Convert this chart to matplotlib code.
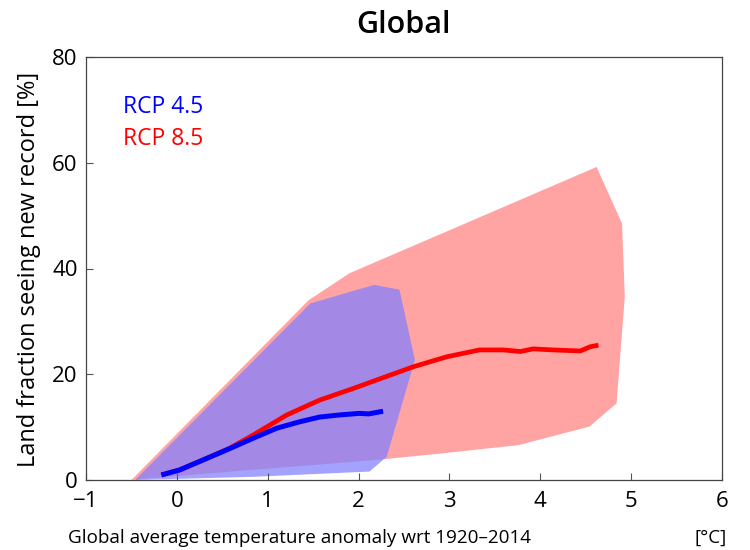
import matplotlib
matplotlib.use("Agg")
import matplotlib.pyplot as plt
from matplotlib.patches import Polygon

plt.rcParams["font.family"] = ["Open Sans", "DejaVu Sans"]

# spread envelopes (temperature anomaly, land fraction %)
rcp85_env_x = [-0.5, 1.45, 1.9, 4.62, 4.90, 4.93, 4.84, 4.54, 3.76, 2.9, 2.2, -0.4]
rcp85_env_y = [0.0, 34.0, 39.1, 59.2, 48.5, 34.7, 14.5, 10.1, 6.6, 5.0, 3.8, 0.2]
rcp45_env_x = [-0.46, 1.47, 2.17, 2.45, 2.62, 2.31, 2.12, 0.84]
rcp45_env_y = [0.0, 33.4, 36.9, 36.0, 22.7, 4.4, 1.6, 0.6]

# ensemble means
rcp45_x = [-0.17, 0.03, 0.29, 0.55, 0.84, 1.10, 1.35, 1.57, 1.79, 2.01, 2.11, 2.27]
rcp45_y = [0.95, 1.9, 3.8, 5.7, 7.9, 9.8, 11.0, 11.9, 12.3, 12.6, 12.5, 13.0]
rcp85_x = [-0.17, 0.03, 0.29, 0.58, 0.84, 1.21, 1.57, 1.94, 2.31, 2.60, 2.97,
           3.33, 3.59, 3.78, 3.92, 4.14, 4.44, 4.55, 4.64]
rcp85_y = [0.95, 1.9, 3.8, 6.0, 8.5, 12.3, 15.1, 17.3, 19.6, 21.4, 23.3,
           24.6, 24.6, 24.3, 24.8, 24.6, 24.4, 25.2, 25.5]

xticks = [-1, 0, 1, 2, 3, 4, 5, 6]
xtick_labels = ["\u22121", "0", "1", "2", "3", "4", "5", "6"]
yticks = [0, 20, 40, 60, 80]

W, H = 750, 550
fig = plt.figure(figsize=(7.5, 5.5), dpi=100)
ax = fig.add_axes([86 / W, 1 - 480 / H, 636 / W, 423 / H])

ax.add_patch(Polygon(list(zip(rcp85_env_x, rcp85_env_y)), closed=True,
                     facecolor=(1.0, 0.5, 0.5), alpha=0.72, edgecolor="none"))
ax.add_patch(Polygon(list(zip(rcp45_env_x, rcp45_env_y)), closed=True,
                     facecolor=(0.5, 0.5, 1.0), alpha=0.72, edgecolor="none"))

ax.plot(rcp85_x, rcp85_y, color="#ff0000", lw=3.4, solid_capstyle="butt")
ax.plot(rcp45_x, rcp45_y, color="#0000ff", lw=3.6, solid_capstyle="butt")

ax.set_xlim(-1, 6)
ax.set_ylim(0, 80)
ax.set_xticks(xticks)
ax.set_xticklabels(xtick_labels)
ax.set_yticks(yticks)
ax.tick_params(direction="in", length=5, width=0.8, color="#555555",
               labelsize=16, top=False, right=False)
ax.tick_params(axis="x", pad=8)
ax.tick_params(axis="y", pad=6)
for s in ax.spines.values():
    s.set_color("#444444")
    s.set_linewidth(0.9)

ax.text(0.058, (480 - 113) / 423, "RCP 4.5", color="#0000ff", fontsize=16.5,
        transform=ax.transAxes, va="baseline")
ax.text(0.058, (480 - 145) / 423, "RCP 8.5", color="#ff0000", fontsize=16.5,
        transform=ax.transAxes, va="baseline")

fig.text(404 / W, 1 - 33 / H, "Global", fontsize=22, fontweight="semibold",
         ha="center", va="baseline")
fig.text(29 / W, 1 - 269 / H, "Land fraction seeing new record [%]", fontsize=17,
         rotation=90, ha="center", va="center")
fig.text(68 / W, 1 - 543 / H, "Global average temperature anomaly wrt 1920\u20132014",
         fontsize=13.6, va="baseline", ha="left")
fig.text(727 / W, 1 - 543 / H, "[\u00b0C]", fontsize=13.6, va="baseline", ha="right")

fig.savefig("out.png", dpi=100)
